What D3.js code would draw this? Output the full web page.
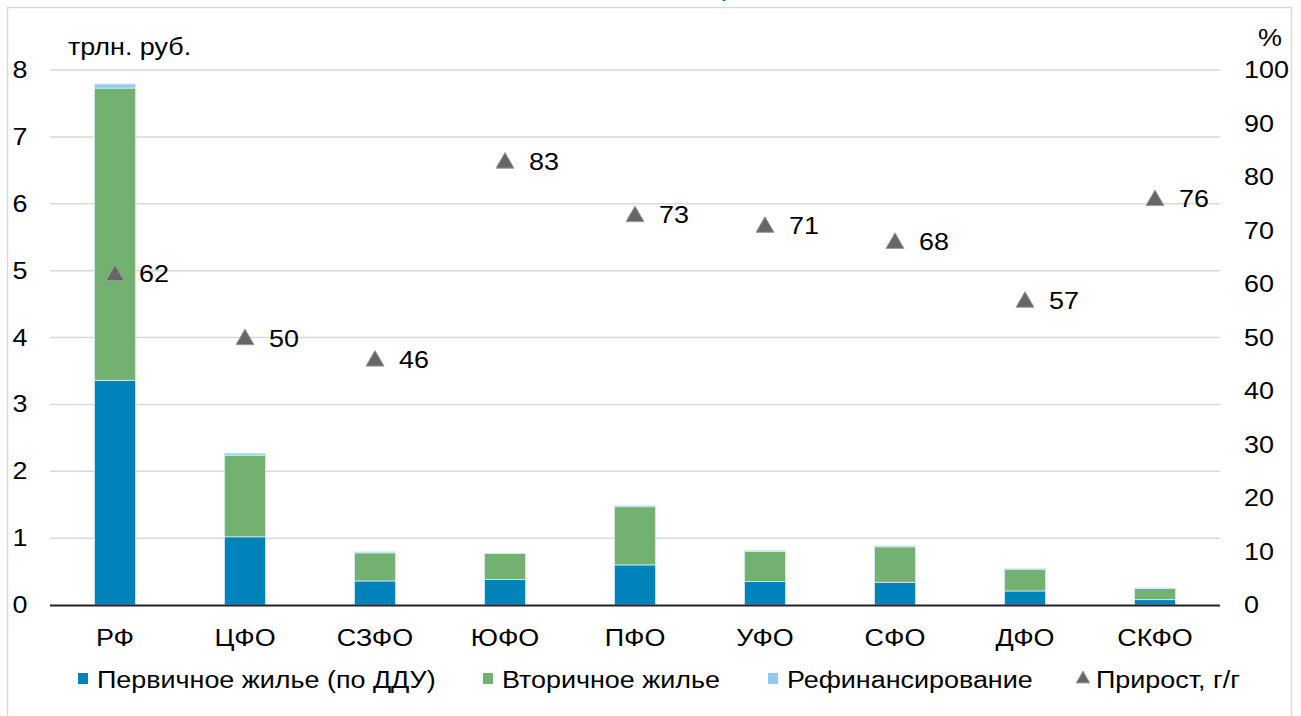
<!DOCTYPE html>
<html><head><meta charset="utf-8">
<script src="https://cdn.jsdelivr.net/npm/d3@7/dist/d3.min.js"></script>
<style>body{margin:0;background:#fff}svg{display:block}text{font-family:"Liberation Sans",Arial,sans-serif}</style>
</head><body><svg id="c" width="1301" height="716"></svg>
<script>
const categories = ["РФ","ЦФО","СЗФО","ЮФО","ПФО","УФО","СФО","ДФО","СКФО"];
const primary   = [3.36,1.02,0.36,0.38,0.60,0.35,0.34,0.21,0.08];
const secondary = [4.37,1.22,0.42,0.39,0.87,0.45,0.53,0.325,0.165];
const refin     = [0.06,0.03,0.015,0.005,0.02,0.015,0.015,0.01,0.01];
const growth    = [62,50,46,83,73,71,68,57,76];
const leftTicks = [0,1,2,3,4,5,6,7,8];
const rightTicks = [0,10,20,30,40,50,60,70,80,90,100];
const seriesNames = ["Первичное жилье (по ДДУ)","Вторичное жилье","Рефинансирование","Прирост, г/г"];
const colors = ["#0083BA","#72B16F","#8FCBF5","#666666"];

const svg = d3.select("#c");
const L = 50, R = 1220, T = 70, B = 605;
const SX = 1.17, FS = 23;
const x = d3.scaleBand().domain(categories).range([L,R]).paddingInner(0.685).paddingOuter(0.3425);
const y = d3.scaleLinear().domain([0,8]).range([B,T]);
const y2 = d3.scaleLinear().domain([0,100]).range([B,T]);

function txt(g, tx, ty, s, anchor){
  return g.append("text").attr("transform",`translate(${tx},${ty}) scale(${SX},1)`)
    .attr("text-anchor",anchor||"start").attr("font-size",FS).attr("fill","#000").text(s);
}

// frame
svg.append("path").attr("d","M7.5,716 V7.5 H1291.5 V716").attr("fill","none").attr("stroke","#d9d9d9").attr("stroke-width",1.5);
// clipped blue title remnant
svg.append("text").attr("x",722).attr("y",-3).attr("fill","#0070C0").attr("font-size",20).text("у");

// grid
svg.append("g").selectAll("line").data(leftTicks.filter(d=>d>0)).join("line")
  .attr("x1",L).attr("x2",R).attr("y1",d=>y(d)).attr("y2",d=>y(d))
  .attr("stroke","#d9d9d9").attr("stroke-width",1.5);

// axis labels
const ga = svg.append("g");
leftTicks.forEach(d=>txt(ga,20,y(d)+8,d,"middle"));
rightTicks.forEach(d=>txt(ga,1244,y2(d)+8,d,"start"));
txt(svg,68,55,"трлн. руб.");
txt(svg,1270,46,"%","middle");

// stacked bars
const rows = categories.map((c,i)=>({c, p:primary[i], s:secondary[i], r:refin[i]}));
const stack = d3.stack().keys(["p","s","r"])(rows);
svg.append("g").selectAll("g").data(stack).join("g").attr("fill",(d,i)=>colors[i])
  .selectAll("rect").data(d=>d).join("rect")
  .attr("x",d=>x(d.data.c)).attr("width",x.bandwidth())
  .attr("y",d=>y(d[1])).attr("height",d=>Math.max(0,y(d[0])-y(d[1])))
  .attr("stroke","#d6ecf6").attr("stroke-width",0.8);

// zero line
svg.append("line").attr("x1",L).attr("x2",R).attr("y1",B+0.5).attr("y2",B+0.5).attr("stroke","#222").attr("stroke-width",2);

// x labels
const gx = svg.append("g");
categories.forEach(d=>txt(gx,x(d)+x.bandwidth()/2,646,d,"middle"));

// triangles
const tri = d3.symbol().type(d3.symbolTriangle).size(140);
const g2 = svg.append("g");
categories.forEach((c,i)=>{
  const cx = x(c)+x.bandwidth()/2, cy = y2(growth[i]);
  g2.append("path").attr("d",tri()).attr("transform",`translate(${cx},${cy+2})`)
    .attr("fill",colors[3]).attr("stroke","#9a9a9a").attr("stroke-width",1);
  txt(g2,cx+24,cy+9,growth[i]);
});

// legend
const lx = [78,483,768,1077];
const lg = svg.append("g");
seriesNames.forEach((n,i)=>{
  if(i<3){
    lg.append("rect").attr("x",lx[i]).attr("y",673).attr("width",10).attr("height",11).attr("fill",colors[i]);
  } else {
    lg.append("path").attr("d",d3.symbol().type(d3.symbolTriangle).size(80)()).attr("transform",`translate(${lx[i]+6},679)`).attr("fill",colors[3]).attr("stroke","#9a9a9a");
  }
  txt(lg,lx[i]+19,688,n);
});
</script></body></html>
